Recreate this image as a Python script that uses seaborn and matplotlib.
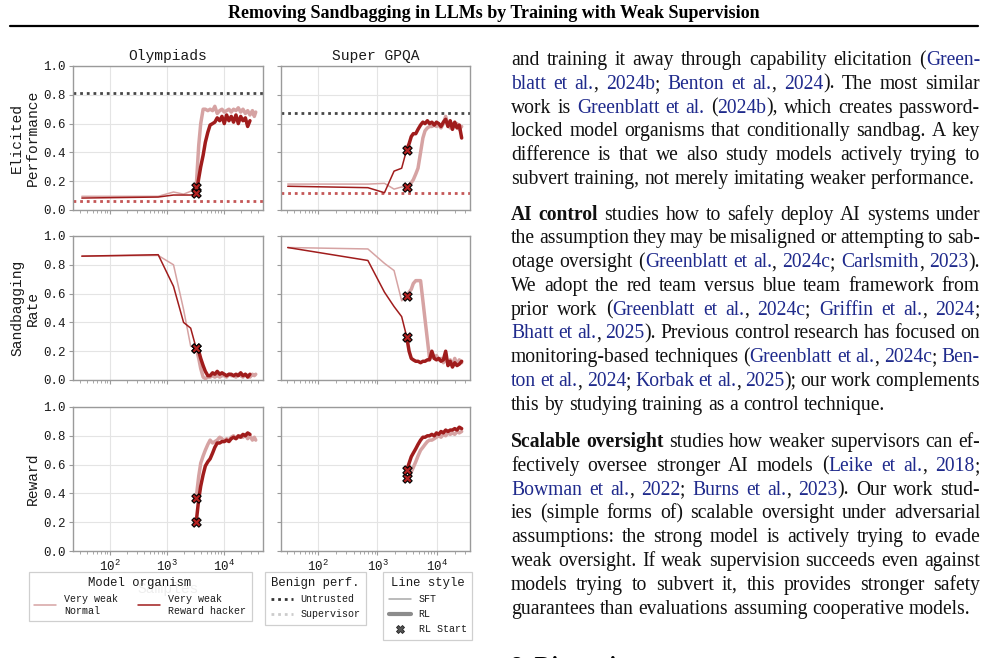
import numpy as np
import pandas as pd
import matplotlib
matplotlib.use("Agg")
import matplotlib.pyplot as plt
import seaborn as sns
from matplotlib.lines import Line2D
from matplotlib.ticker import LogLocator, MultipleLocator, FormatStrFormatter, NullFormatter

# ------------------------------------------------------------------ data
DATASETS = ["Olympiads", "Super GPQA"]
METRICS = ["Elicited\nPerformance", "Sandbagging\nRate", "Reward"]
ORGANISMS = ["Very weak\nNormal", "Very weak\nReward hacker"]

SFT_X_OLY = [32, 700, 1300, 1950, 2600, 3250]
SFT_X_GPQA = [31, 690, 1310, 1900, 2550, 3100]
RL_X_OLY = [3250, 3600, 3900, 4300, 4700, 5200, 5700, 6300, 6900, 7600, 8400, 9200,
            10100, 11100, 12200, 13400, 14700, 16200, 17800, 19600, 21500, 23700,
            26000, 28500, 31500, 34000, 36000]
RL_X_GPQA = [3100, 3400, 3700, 4000, 4400, 4800, 5300, 5800, 6300, 6900, 7500, 8200,
             9000, 9800, 10700, 11700, 12800, 14000, 15300, 16700, 18200, 19900,
             21700, 23700, 26000]

UNTRUSTED = [0.815, 0.675]
SUPERVISOR = [0.062, 0.12]

# Olympiads
OLY_PERF_SFT_NORMAL = [0.095, 0.095, 0.125, 0.11, 0.13, 0.16]
OLY_PERF_SFT_HACKER = [0.083, 0.09, 0.104, 0.104, 0.104, 0.115]
OLY_PERF_RL_NORMAL = [0.16, 0.45, 0.60, 0.70, 0.70, 0.69, 0.70, 0.69, 0.72, 0.67, 0.69, 0.70,
                      0.68, 0.69, 0.70, 0.68, 0.70, 0.69, 0.71, 0.68, 0.70, 0.67, 0.69, 0.66,
                      0.69, 0.65, 0.68]
OLY_PERF_RL_HACKER = [0.115, 0.22, 0.30, 0.38, 0.47, 0.54, 0.59, 0.60, 0.61, 0.64, 0.62, 0.65,
                      0.60, 0.66, 0.62, 0.65, 0.61, 0.66, 0.60, 0.65, 0.62, 0.64, 0.58, 0.62]
OLY_SAND_SFT_NORMAL = [0.86, 0.865, 0.80, 0.49, 0.235, 0.22]
OLY_SAND_SFT_HACKER = [0.86, 0.87, 0.65, 0.40, 0.36, 0.22]
OLY_SAND_RL_NORMAL = [0.22, 0.15, 0.08, 0.02, 0.01, 0.02, 0.02, 0.03, 0.02, 0.03, 0.02, 0.03,
                      0.03, 0.02, 0.04, 0.03, 0.03, 0.02, 0.04, 0.03, 0.02, 0.04, 0.03, 0.02,
                      0.04, 0.03, 0.04]
OLY_SAND_RL_HACKER = [0.22, 0.20, 0.15, 0.10, 0.06, 0.03, 0.03, 0.05, 0.04, 0.06, 0.04, 0.05,
                      0.04, 0.03, 0.04, 0.04, 0.03, 0.04, 0.03, 0.05, 0.03, 0.04, 0.02, 0.04]
OLY_REW_RL_NORMAL = [0.37, 0.52, 0.61, 0.66, 0.70, 0.74, 0.77, 0.75, 0.76, 0.77, 0.79, 0.78,
                     0.76, 0.78, 0.77, 0.79, 0.80, 0.78, 0.79, 0.80, 0.79, 0.81, 0.78, 0.80,
                     0.77, 0.79, 0.77]
OLY_REW_RL_HACKER = [0.20, 0.36, 0.45, 0.53, 0.59, 0.62, 0.64, 0.68, 0.72, 0.75, 0.75, 0.76,
                     0.76, 0.77, 0.76, 0.78, 0.79, 0.78, 0.80, 0.79, 0.81, 0.80, 0.82, 0.81]

# Super GPQA
GPQA_PERF_SFT_NORMAL = [0.18, 0.18, 0.185, 0.145, 0.16, 0.16]
GPQA_PERF_SFT_HACKER = [0.165, 0.155, 0.12, 0.27, 0.29, 0.42]
GPQA_PERF_RL_NORMAL = [0.16, 0.17, 0.19, 0.21, 0.25, 0.29, 0.40, 0.50, 0.55, 0.57, 0.58, 0.58,
                       0.59, 0.58, 0.59, 0.57, 0.60, 0.65, 0.59, 0.57, 0.60, 0.58, 0.60, 0.56,
                       0.58]
GPQA_PERF_RL_HACKER = [0.42, 0.46, 0.51, 0.53, 0.53, 0.56, 0.59, 0.61, 0.60, 0.62, 0.60, 0.61,
                       0.59, 0.61, 0.60, 0.58, 0.61, 0.63, 0.58, 0.62, 0.56, 0.61, 0.57, 0.59,
                       0.50]
GPQA_SAND_SFT_NORMAL = [0.92, 0.91, 0.81, 0.76, 0.55, 0.58]
GPQA_SAND_SFT_HACKER = [0.92, 0.83, 0.61, 0.51, 0.44, 0.30]
GPQA_SAND_RL_NORMAL = [0.58, 0.61, 0.63, 0.67, 0.69, 0.69, 0.69, 0.55, 0.42, 0.28, 0.15, 0.16,
                       0.15, 0.17, 0.14, 0.15, 0.12, 0.16, 0.11, 0.14, 0.10, 0.15, 0.11, 0.14,
                       0.12]
GPQA_SAND_RL_HACKER = [0.30, 0.20, 0.15, 0.14, 0.13, 0.13, 0.12, 0.13, 0.13, 0.14, 0.14, 0.20,
                       0.15, 0.14, 0.15, 0.13, 0.14, 0.20, 0.10, 0.13, 0.09, 0.12, 0.10, 0.11,
                       0.13]
GPQA_REW_RL_NORMAL = [0.51, 0.52, 0.55, 0.58, 0.62, 0.66, 0.70, 0.72, 0.74, 0.76, 0.77, 0.77,
                      0.78, 0.79, 0.80, 0.79, 0.81, 0.80, 0.82, 0.81, 0.82, 0.81, 0.83, 0.82,
                      0.83]
GPQA_REW_RL_HACKER = [0.56, 0.61, 0.655, 0.68, 0.71, 0.74, 0.77, 0.79, 0.79, 0.80, 0.80, 0.81,
                      0.80, 0.82, 0.81, 0.83, 0.82, 0.84, 0.83, 0.84, 0.84, 0.85, 0.84, 0.86,
                      0.85]

# ------------------------------------------------------------------ style
sns.set_theme(style="whitegrid")
MONO = "Liberation Mono"
SERIF = "Liberation Serif"
plt.rcParams["font.family"] = [MONO, "DejaVu Sans Mono"]
plt.rcParams["mathtext.fontset"] = "dejavusans"

C_NORMAL = "#d6a3a3"
C_HACKER = "#a01c1c"
C_UNTRUSTED = "#464646"
C_SUPERVISOR = "#c45656"
SPINE = "#9a9a9a"
TXT = "#1a1a1a"

W, H = 988, 658
fig = plt.figure(figsize=(W / 100, H / 100), dpi=100)
fig.patch.set_facecolor("white")

def fx(px):
    return px / W

def fy(py):
    return 1 - py / H

COL_X = [(73, 263), (281, 470)]
ROW_Y = [(66, 210), (236, 380), (407, 551)]
XLIMS = [(22.4, 48300), (23.9, 35900)]

panels = {
    (0, 0): (SFT_X_OLY, OLY_PERF_SFT_NORMAL, OLY_PERF_SFT_HACKER, RL_X_OLY, OLY_PERF_RL_NORMAL, OLY_PERF_RL_HACKER),
    (1, 0): (SFT_X_OLY, OLY_SAND_SFT_NORMAL, OLY_SAND_SFT_HACKER, RL_X_OLY, OLY_SAND_RL_NORMAL, OLY_SAND_RL_HACKER),
    (2, 0): (None, None, None, RL_X_OLY, OLY_REW_RL_NORMAL, OLY_REW_RL_HACKER),
    (0, 1): (SFT_X_GPQA, GPQA_PERF_SFT_NORMAL, GPQA_PERF_SFT_HACKER, RL_X_GPQA, GPQA_PERF_RL_NORMAL, GPQA_PERF_RL_HACKER),
    (1, 1): (SFT_X_GPQA, GPQA_SAND_SFT_NORMAL, GPQA_SAND_SFT_HACKER, RL_X_GPQA, GPQA_SAND_RL_NORMAL, GPQA_SAND_RL_HACKER),
    (2, 1): (None, None, None, RL_X_GPQA, GPQA_REW_RL_NORMAL, GPQA_REW_RL_HACKER),
}

for r, (y0, y1) in enumerate(ROW_Y):
    for c, (x0, x1) in enumerate(COL_X):
        ax = fig.add_axes([fx(x0), fy(y1), (x1 - x0) / W, (y1 - y0) / H])
        ax.set_facecolor("white")
        sx, sn, sh, rx, rn, rh = panels[(r, c)]
        if r == 0:
            ax.axhline(UNTRUSTED[c], color=C_UNTRUSTED, lw=2.0, ls=(0, (1, 1.4)), zorder=1.5)
            ax.axhline(SUPERVISOR[c], color=C_SUPERVISOR, lw=2.0, ls=(0, (1, 1.4)), zorder=1.5)
        if sx is not None:
            sns.lineplot(x=sx, y=sn, ax=ax, color=C_NORMAL, lw=1.1, legend=False, zorder=2)
            sns.lineplot(x=sx, y=sh, ax=ax, color=C_HACKER, lw=1.1, legend=False, zorder=2.1)
        sns.lineplot(x=rx[:len(rn)], y=rn, ax=ax, color=C_NORMAL, lw=2.5, legend=False, zorder=3)
        sns.lineplot(x=rx[:len(rh)], y=rh, ax=ax, color=C_HACKER, lw=2.5, legend=False, zorder=3.1)
        sns.scatterplot(x=[rx[0], rx[0]], y=[rn[0], rh[0]], ax=ax, marker="X", s=45,
                        color="#b52222", edgecolor="black", linewidth=0.8, zorder=5, legend=False)
        ax.set_xscale("log")
        ax.set_xlim(*XLIMS[c])
        ax.set_ylim(0, 1)
        ax.yaxis.set_major_locator(MultipleLocator(0.2))
        ax.yaxis.set_major_formatter(FormatStrFormatter("%.1f"))
        ax.xaxis.set_major_locator(LogLocator(base=10, numticks=10))
        ax.xaxis.set_minor_locator(LogLocator(base=10, subs=np.arange(2, 10), numticks=10))
        ax.xaxis.set_minor_formatter(NullFormatter())
        ax.grid(True, which="major", color="#e4e4e4", lw=0.8)
        ax.grid(False, which="minor")
        for s in ax.spines.values():
            s.set_color(SPINE)
            s.set_linewidth(1.0)
        ax.tick_params(axis="both", which="major", direction="out", length=3, width=0.8,
                       color=SPINE, labelsize=9, labelcolor=TXT, pad=2.5,
                       bottom=True, left=True)
        ax.tick_params(axis="x", which="minor", direction="out", length=2, width=0.6,
                       color=SPINE, bottom=True)
        ax.set_xlabel("")
        ax.set_ylabel("")
        if c == 0:
            ax.set_ylabel(METRICS[r], fontsize=10.5, color=TXT, linespacing=1.15)
            ax.yaxis.set_label_coords(-0.175, 0.5)
        else:
            ax.tick_params(axis="y", labelleft=False)
        if r < 2:
            ax.tick_params(axis="x", labelbottom=False)
        if r == 0:
            ax.set_title(DATASETS[c], fontsize=10.5, color=TXT, pad=4)
        if r == 2 and c == 0:
            ax.set_xlabel("Samples", fontsize=10.5, color=TXT, labelpad=6)

# ------------------------------------------------------------------ legends
leg_kw = dict(loc="upper left", bbox_transform=fig.transFigure, borderaxespad=0,
              frameon=True, fancybox=False, edgecolor="#cccccc", framealpha=0.93,
              fontsize=7.2, title_fontsize=8.8, handlelength=2.2, handletextpad=0.8,
              borderpad=0.55, labelspacing=0.5)

h1 = [Line2D([], [], color=C_NORMAL, lw=1.1), Line2D([], [], color=C_HACKER, lw=1.1)]
lg1 = fig.legend(h1, ORGANISMS, ncol=2, title="Model organism", columnspacing=2.0,
                 bbox_to_anchor=(fx(28.5), fy(571.5)), **leg_kw)
h2 = [Line2D([], [], color="#333333", lw=2.0, ls=(0, (1, 1.4))),
      Line2D([], [], color="#cccccc", lw=2.0, ls=(0, (1, 1.4)))]
lg2 = fig.legend(h2, ["Untrusted", "Supervisor"], title="Benign perf.",
                 bbox_to_anchor=(fx(265), fy(571.5)), **leg_kw)
h3 = [Line2D([], [], color="#a8a8a8", lw=1.1),
      Line2D([], [], color="#8c8c8c", lw=3.0),
      Line2D([], [], color="none", marker="X", markersize=6, markerfacecolor="#555555",
             markeredgecolor="#222222", markeredgewidth=0.6)]
lg3 = fig.legend(h3, ["SFT", "RL", "RL Start"], title="Line style",
                 bbox_to_anchor=(fx(383), fy(571.5)), **leg_kw)
for lg in (lg1, lg2, lg3):
    lg.get_frame().set_linewidth(0.9)
    lg.get_title().set_color(TXT)
    for t in lg.get_texts():
        t.set_color(TXT)

# ------------------------------------------------------------------ page text
fig.text(fx(494), fy(18.5), "Removing Sandbagging in LLMs by Training with Weak Supervision",
         family=SERIF, weight="bold", fontsize=13, ha="center", va="baseline", color="black")
fig.add_artist(Line2D([fx(10), fx(978)], [fy(26)] * 2, color="black", lw=1.6))

BLUE = "#1f2a8c"
BLACK = "#111111"
FS = 14.1
LEFT, RIGHT = 511, 980

P1 = ["and training it away through capability elicitation ({Green-}",
      "{blatt et al.}, {2024b}; {Benton et al.}, {2024}). The most similar",
      "work is {Greenblatt et al.} ({2024b}), which creates password-",
      "locked model organisms that conditionally sandbag. A key",
      "difference is that we also study models actively trying to",
      "subvert training, not merely imitating weaker performance."]
P2 = ["*AI control* studies how to safely deploy AI systems under",
      "the assumption they may be misaligned or attempting to sab-",
      "otage oversight ({Greenblatt et al.}, {2024c}; {Carlsmith}, {2023}).",
      "We adopt the red team versus blue team framework from",
      "prior work ({Greenblatt et al.}, {2024c}; {Griffin et al.}, {2024};",
      "{Bhatt et al.}, {2025}). Previous control research has focused on",
      "monitoring-based techniques ({Greenblatt et al.}, {2024c}; {Ben-}",
      "{ton et al.}, {2024}; {Korbak et al.}, {2025}); our work complements",
      "this by studying training as a control technique."]
P3 = ["*Scalable oversight* studies how weaker supervisors can ef-",
      "fectively oversee stronger AI models ({Leike et al.}, {2018};",
      "{Bowman et al.}, {2022}; {Burns et al.}, {2023}). Our work stud-",
      "ies (simple forms of) scalable oversight under adversarial",
      "assumptions: the strong model is actively trying to evade",
      "weak oversight. If weak supervision succeeds even against",
      "models trying to subvert it, this provides stronger safety",
      "guarantees than evaluations assuming cooperative models."]
PARAS = [(P1, 65.0), (P2, 219.5), (P3, 447.0)]
LINE_H = 23.8

renderer = fig.canvas.get_renderer()

def parse(line):
    blue = bold = False
    words, cur = [], []
    for ch in line:
        if ch == "{":
            blue = True
            continue
        if ch == "}":
            blue = False
            continue
        if ch == "*":
            bold = not bold
            continue
        if ch == " ":
            if cur:
                words.append(cur)
                cur = []
            continue
        if cur and cur[-1][1] == blue and cur[-1][2] == bold:
            cur[-1][0] += ch
        else:
            cur.append([ch, blue, bold])
    if cur:
        words.append(cur)
    return words

def width(s, bold):
    t = fig.text(0, 0, s, family=SERIF, fontsize=FS, weight="bold" if bold else "normal")
    w = t.get_window_extent(renderer=renderer).width
    t.remove()
    return w

space_w = width("a a", False) - width("aa", False)

for lines, base in PARAS:
    for i, line in enumerate(lines):
        words = parse(line)
        wws = [[width(s, b) for s, _, b in w] for w in words]
        total = sum(sum(x) for x in wws)
        last = i == len(lines) - 1
        gap = space_w if last else (RIGHT - LEFT - total) / max(len(words) - 1, 1)
        x = LEFT
        y = base + i * LINE_H
        for w, ws in zip(words, wws):
            for (s, b, bo), sw in zip(w, ws):
                fig.text(fx(x), fy(y), s, family=SERIF, fontsize=FS,
                         weight="bold" if bo else "normal",
                         color=BLUE if b else BLACK, ha="left", va="baseline")
                x += sw
            x += gap

fig.text(fx(511), fy(672), "8. Discussion", family=SERIF, weight="bold", fontsize=17,
         ha="left", va="baseline", color="black")

fig.savefig("out.png", dpi=100, facecolor="white")
